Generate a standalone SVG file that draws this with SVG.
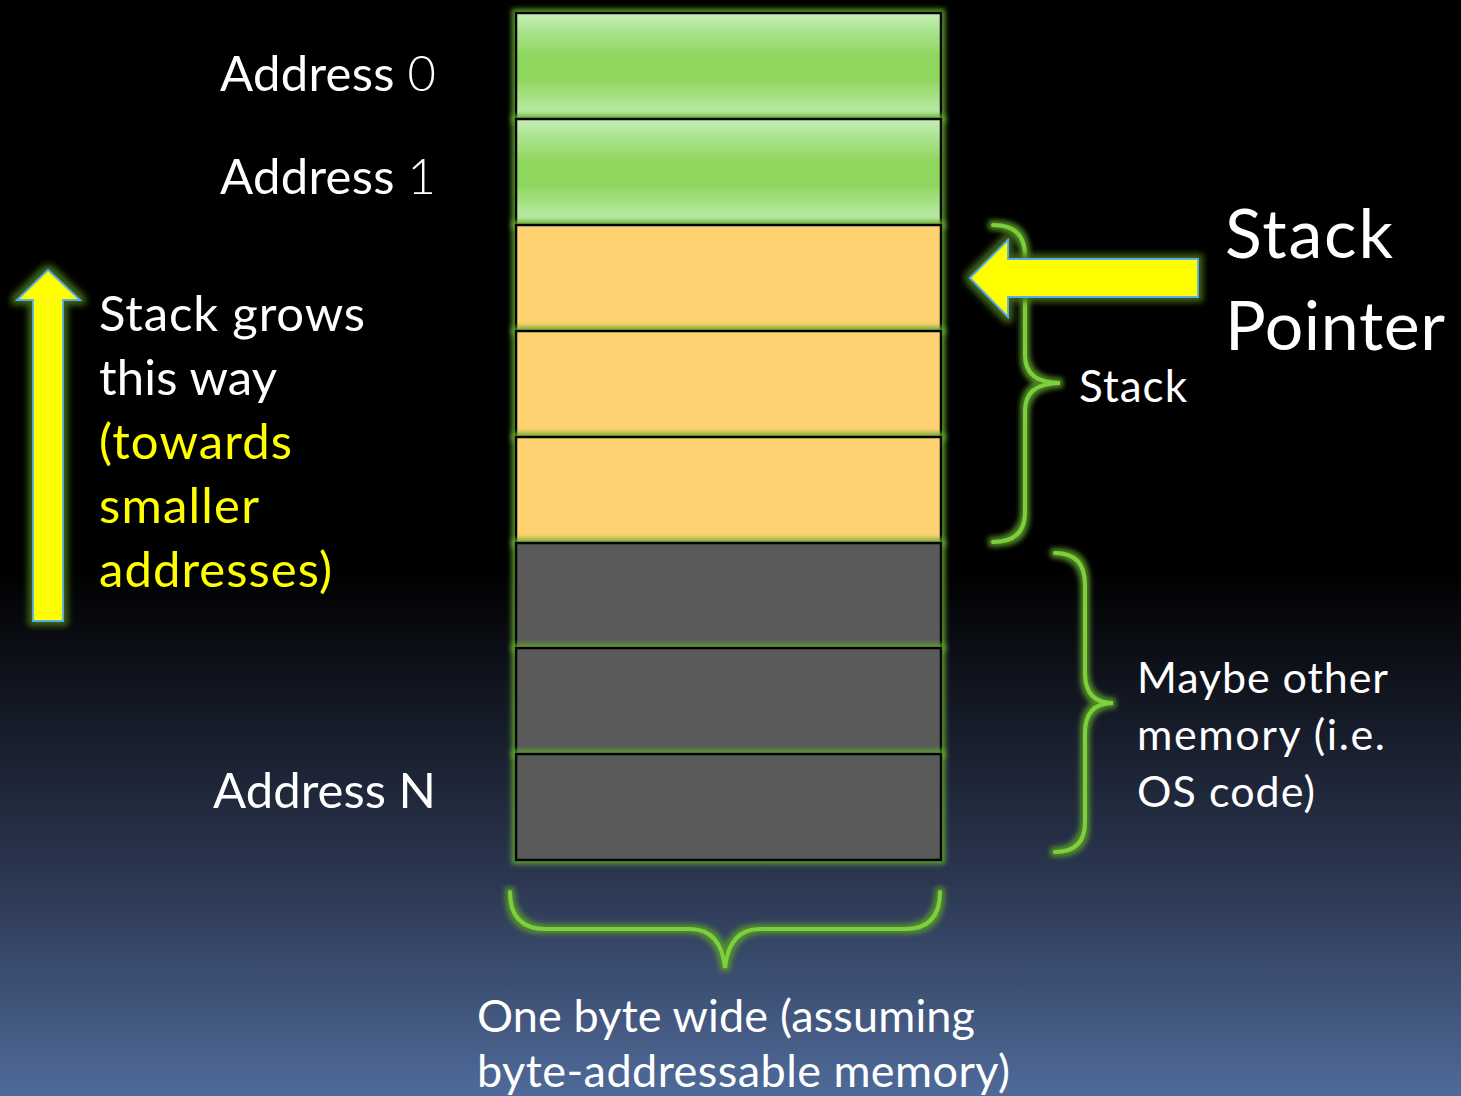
<svg xmlns="http://www.w3.org/2000/svg" width="1461" height="1096" viewBox="0 0 1461 1096">
<defs>
<linearGradient id="bg" x1="0" y1="0" x2="0" y2="1">
<stop offset="0" stop-color="#000000"/>
<stop offset="0.52" stop-color="#000000"/>
<stop offset="0.8" stop-color="#2b3650"/>
<stop offset="1" stop-color="#4f6a99"/>
</linearGradient>
<linearGradient id="green" x1="0" y1="0" x2="0" y2="1">
<stop offset="0" stop-color="#c8f0b4"/>
<stop offset="0.15" stop-color="#ade495"/>
<stop offset="0.4" stop-color="#8fd65e"/>
<stop offset="0.62" stop-color="#8fd65e"/>
<stop offset="0.88" stop-color="#b2e79b"/>
<stop offset="1" stop-color="#c3f0ad"/>
</linearGradient>
<filter id="glow" x="-20%" y="-20%" width="140%" height="140%">
<feMorphology in="SourceAlpha" operator="dilate" radius="3" result="d"/>
<feGaussianBlur in="d" stdDeviation="2.5" result="b"/>
<feFlood flood-color="#5fa52a" flood-opacity="0.9"/>
<feComposite in2="b" operator="in" result="g"/>
<feMerge><feMergeNode in="g"/><feMergeNode in="SourceGraphic"/></feMerge>
</filter>
<filter id="aglow" x="-30%" y="-30%" width="160%" height="160%">
<feMorphology in="SourceAlpha" operator="dilate" radius="4" result="d"/>
<feGaussianBlur in="d" stdDeviation="3" result="b"/>
<feFlood flood-color="#46701a" flood-opacity="0.9"/>
<feComposite in2="b" operator="in" result="g"/>
<feMerge><feMergeNode in="g"/><feMergeNode in="SourceGraphic"/></feMerge>
</filter>
<filter id="bglow" x="-30%" y="-10%" width="160%" height="120%">
<feMorphology in="SourceAlpha" operator="dilate" radius="3" result="d"/>
<feGaussianBlur in="d" stdDeviation="2.5" result="b"/>
<feFlood flood-color="#5a9a2a" flood-opacity="0.85"/>
<feComposite in2="b" operator="in" result="g"/>
<feMerge><feMergeNode in="g"/><feMergeNode in="SourceGraphic"/></feMerge>
</filter>
</defs>
<style>
.cell{stroke:#000;stroke-width:2.5}
.g{fill:url(#green)}
.o{fill:#fed26f}
.k{fill:#5a5a5a}
.arrow{fill:#ffff00;stroke:#5aaee8;stroke-width:1.8;stroke-linejoin:miter}
.brace{fill:none;stroke:#7dcf3a;stroke-width:4;stroke-linecap:round}
.t{font-family:Lato,"Open Sans","Noto Sans",sans-serif;fill:#ffffff}
.y{fill:#ffff00}
.dig{font-weight:300}
</style>
<rect x="0" y="0" width="1461" height="1096" fill="url(#bg)"/>

<g id="memory">
<g id="cell0"><rect class="cell g" x="516" y="13" width="425" height="106" filter="url(#glow)"/></g>
<g id="cell1"><rect class="cell g" x="516" y="119" width="425" height="106" filter="url(#glow)"/></g>
<g id="cell2"><rect class="cell o" x="516" y="225" width="425" height="106" filter="url(#glow)"/></g>
<g id="cell3"><rect class="cell o" x="516" y="331" width="425" height="106" filter="url(#glow)"/></g>
<g id="cell4"><rect class="cell o" x="516" y="437" width="425" height="106" filter="url(#glow)"/></g>
<g id="cell5"><rect class="cell k" x="516" y="543" width="425" height="105" filter="url(#glow)"/></g>
<g id="cell6"><rect class="cell k" x="516" y="648" width="425" height="106" filter="url(#glow)"/></g>
<g id="cell7"><rect class="cell k" x="516" y="754" width="425" height="106" filter="url(#glow)"/></g>
</g>

<g id="connectors">
<path class="brace" filter="url(#bglow)" d="M993,225 Q1025,225 1025,256 L1025,355 Q1025,383 1060,383 Q1025,383 1025,411 L1025,512 Q1025,542 993,542"/>
<path class="brace" filter="url(#bglow)" d="M1055,553 Q1085,553 1085,585 L1085,673 Q1085,703 1113,703 Q1085,703 1085,733 L1085,822 Q1085,852 1055,852"/>
<path class="brace" filter="url(#bglow)" d="M510,892 Q510,929 546,929 L690,929 Q721,929 725,968 Q729,929 760,929 L905,929 Q940,929 940,892"/>
</g>

<g id="grow-arrow">
<polygon class="arrow" filter="url(#aglow)" points="48,270 80,300 63,300 63,621 33,621 33,300 17,300"/>
</g>
<g id="sp-arrow">
<polygon class="arrow" filter="url(#aglow)" points="970,278 1008,240 1008,259 1198,259 1198,297 1008,297 1008,317"/>
</g>

<g id="labels">
<text class="t" x="220" y="91" font-size="49" textLength="216">Address <tspan class="dig">0</tspan></text>
<text class="t" x="220" y="194" font-size="49" textLength="216">Address <tspan class="dig">1</tspan></text>
<text class="t" x="213" y="808" font-size="49" textLength="223">Address N</text>
</g>

<g id="grow-label">
<text class="t" x="99" y="331" font-size="49" textLength="266">Stack grows</text>
<text class="t" x="99" y="395" font-size="49" textLength="178">this way</text>
<text class="t y" x="99" y="459" font-size="49" textLength="193">(towards</text>
<text class="t y" x="99" y="523" font-size="49" textLength="160">smaller</text>
<text class="t y" x="99" y="587" font-size="49" textLength="233">addresses)</text>
</g>

<g id="sp-label">
<text class="t" x="1225" y="258" font-size="68" textLength="168">Stack</text>
<text class="t" x="1225" y="350" font-size="68" textLength="220">Pointer</text>
</g>

<g id="stack-label">
<text class="t" x="1079" y="402" font-size="44" textLength="108">Stack</text>
</g>

<g id="other-label">
<text class="t" x="1137" y="693" font-size="43" textLength="251">Maybe other</text>
<text class="t" x="1137" y="750" font-size="43" textLength="248">memory (i.e.</text>
<text class="t" x="1137" y="807" font-size="43" textLength="178">OS code)</text>
</g>

<g id="width-label">
<text class="t" x="477" y="1032" font-size="45" textLength="498">One byte wide (assuming</text>
<text class="t" x="477" y="1087" font-size="45" textLength="533">byte-addressable memory)</text>
</g>
</svg>
